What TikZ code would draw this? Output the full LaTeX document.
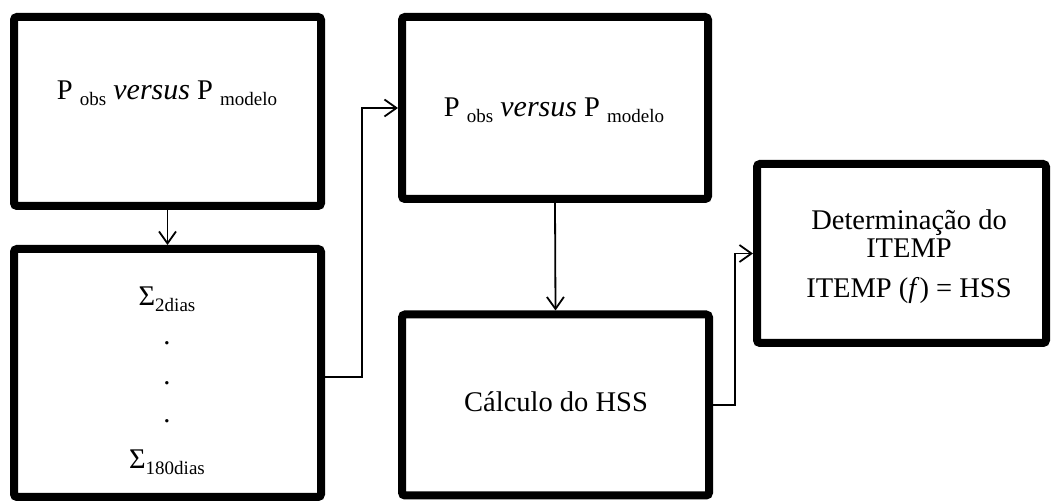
\documentclass[tikz,border=0pt]{standalone}
\usepackage{fontspec}
\setmainfont{Liberation Serif}
\usetikzlibrary{arrows.meta,shadows}
\newcommand\subtx[1]{\raisebox{-6pt}{\fontsize{19}{19}\selectfont #1}}
\tikzset{
  box/.style={draw=black, line width=8pt, rounded corners=3pt, fill=white,
    outer sep=4pt, inner sep=0pt,
    drop shadow={shadow xshift=2pt, shadow yshift=-3pt, opacity=.25, fill=gray}},
  txt/.style={inner sep=0pt, anchor=base, font=\fontsize{28.5}{28.5}\selectfont},
  arr/.style={line width=1.8pt, -{Straight Barb[length=12pt,width=17pt,line width=1.8pt]}},
}
\begin{document}
\begin{tikzpicture}[x=1pt,y=-1pt]
\useasboundingbox (0,0) rectangle (1053,502);
\fill[white] (0,0) rectangle (1053,502);
% boxes
\node[box, minimum width=307pt, minimum height=189pt] (b1) at (167.5,111.5) {};
\node[box, minimum width=307pt, minimum height=248pt] (b2) at (167.5,373) {};
\node[box, minimum width=306pt, minimum height=182pt] (b3) at (555,108) {};
\node[box, minimum width=307pt, minimum height=181pt] (b4) at (555.5,405) {};
\node[box, minimum width=289pt, minimum height=179pt] (b5) at (901.5,253.5) {};
% texts
\node[txt] (t1) at (167,100) {P \subtx{obs} {\fontsize{30}{30}\selectfont\itshape versus} P \subtx{modelo}};
\node[txt] (t3) at (554,117) {P \subtx{obs} {\fontsize{30}{30}\selectfont\itshape versus} P \subtx{modelo}};
\node[txt] (t2a) at (167,306) {Σ\subtx{2dias}};
\node[txt] (t2b) at (167,345) {.};
\node[txt] (t2c) at (167,385) {.};
\node[txt] (t2d) at (167,423) {.};
\node[txt] (t2e) at (167,469) {Σ\subtx{180dias}};
\node[txt] (t4) at (556,412) {Cálculo do HSS};
\node[txt] (t5a) at (909,230) {Determinação do};
\node[txt] (t5b) at (909,258) {ITEMP};
\node[txt] (t5c) at (909,298) {ITEMP (\textit{f}) = HSS};
% connectors
\coordinate (c2) at ([yshift=-4pt]b2.east);
\draw[arr] (c2) -- ++(37,0) |- (b3.west);
\draw[arr] (b1.south) -- (b2.north);
\draw[arr] (b3.south) -- (b4.north);
\draw[arr] (b4.east) -- ++(22,0) |- (b5.west);
\end{tikzpicture}
\end{document}
